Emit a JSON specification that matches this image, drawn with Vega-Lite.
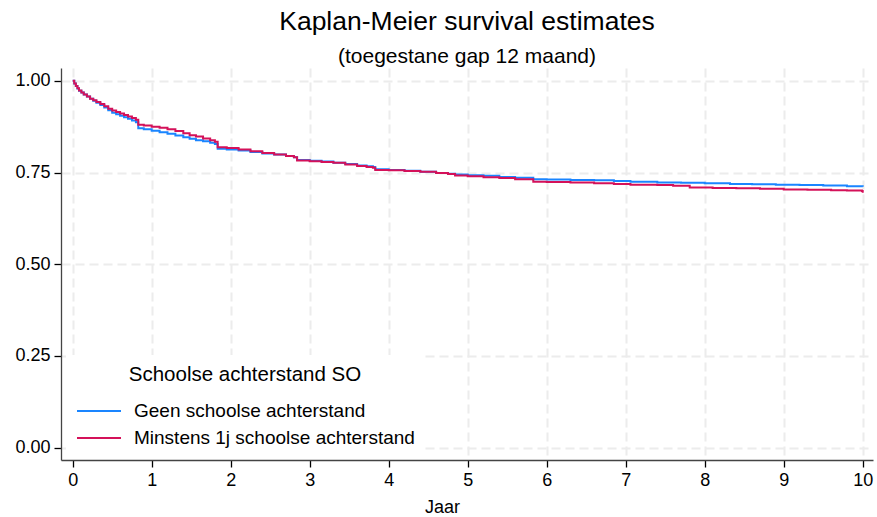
{
  "$schema": "https://vega.github.io/schema/vega-lite/v6.json",
  "width": 812,
  "height": 392,
  "autosize": {"type": "none"},
  "padding": {"left": 61, "top": 68, "right": 4, "bottom": 57},
  "background": "white",
  "title": {
    "text": "Kaplan-Meier survival estimates",
    "subtitle": "(toegestane gap 12 maand)",
    "frame": "group",
    "anchor": "middle",
    "font": "Liberation Sans",
    "fontSize": 26.5,
    "fontWeight": "normal",
    "color": "#000000",
    "subtitleFont": "Liberation Sans",
    "subtitleFontSize": 21,
    "subtitleColor": "#000000",
    "subtitlePadding": 11,
    "offset": 1
  },
  "data": {
    "values": [
      {"groep": "Geen schoolse achterstand", "t": 0, "s": 1.0},
      {"groep": "Geen schoolse achterstand", "t": 0.02, "s": 0.993},
      {"groep": "Geen schoolse achterstand", "t": 0.04, "s": 0.986},
      {"groep": "Geen schoolse achterstand", "t": 0.06, "s": 0.979},
      {"groep": "Geen schoolse achterstand", "t": 0.08, "s": 0.973},
      {"groep": "Geen schoolse achterstand", "t": 0.11, "s": 0.968},
      {"groep": "Geen schoolse achterstand", "t": 0.14, "s": 0.963},
      {"groep": "Geen schoolse achterstand", "t": 0.18, "s": 0.957},
      {"groep": "Geen schoolse achterstand", "t": 0.22, "s": 0.951},
      {"groep": "Geen schoolse achterstand", "t": 0.26, "s": 0.946},
      {"groep": "Geen schoolse achterstand", "t": 0.3, "s": 0.94},
      {"groep": "Geen schoolse achterstand", "t": 0.35, "s": 0.934},
      {"groep": "Geen schoolse achterstand", "t": 0.4, "s": 0.927},
      {"groep": "Geen schoolse achterstand", "t": 0.45, "s": 0.92},
      {"groep": "Geen schoolse achterstand", "t": 0.5, "s": 0.913},
      {"groep": "Geen schoolse achterstand", "t": 0.55, "s": 0.909},
      {"groep": "Geen schoolse achterstand", "t": 0.6, "s": 0.905},
      {"groep": "Geen schoolse achterstand", "t": 0.65, "s": 0.901},
      {"groep": "Geen schoolse achterstand", "t": 0.7, "s": 0.897},
      {"groep": "Geen schoolse achterstand", "t": 0.75, "s": 0.892},
      {"groep": "Geen schoolse achterstand", "t": 0.8, "s": 0.887},
      {"groep": "Geen schoolse achterstand", "t": 0.83, "s": 0.871},
      {"groep": "Geen schoolse achterstand", "t": 0.9, "s": 0.868},
      {"groep": "Geen schoolse achterstand", "t": 1.0, "s": 0.864},
      {"groep": "Geen schoolse achterstand", "t": 1.1, "s": 0.86},
      {"groep": "Geen schoolse achterstand", "t": 1.2, "s": 0.856},
      {"groep": "Geen schoolse achterstand", "t": 1.3, "s": 0.851},
      {"groep": "Geen schoolse achterstand", "t": 1.4, "s": 0.846},
      {"groep": "Geen schoolse achterstand", "t": 1.48, "s": 0.842},
      {"groep": "Geen schoolse achterstand", "t": 1.56, "s": 0.838},
      {"groep": "Geen schoolse achterstand", "t": 1.65, "s": 0.835},
      {"groep": "Geen schoolse achterstand", "t": 1.74, "s": 0.831},
      {"groep": "Geen schoolse achterstand", "t": 1.8, "s": 0.828},
      {"groep": "Geen schoolse achterstand", "t": 1.835, "s": 0.815},
      {"groep": "Geen schoolse achterstand", "t": 1.95, "s": 0.813},
      {"groep": "Geen schoolse achterstand", "t": 2.1, "s": 0.81},
      {"groep": "Geen schoolse achterstand", "t": 2.25, "s": 0.806},
      {"groep": "Geen schoolse achterstand", "t": 2.4, "s": 0.802},
      {"groep": "Geen schoolse achterstand", "t": 2.55, "s": 0.799},
      {"groep": "Geen schoolse achterstand", "t": 2.7, "s": 0.795},
      {"groep": "Geen schoolse achterstand", "t": 2.8, "s": 0.792},
      {"groep": "Geen schoolse achterstand", "t": 2.84, "s": 0.784},
      {"groep": "Geen schoolse achterstand", "t": 3.0, "s": 0.782},
      {"groep": "Geen schoolse achterstand", "t": 3.15, "s": 0.78},
      {"groep": "Geen schoolse achterstand", "t": 3.3, "s": 0.777},
      {"groep": "Geen schoolse achterstand", "t": 3.45, "s": 0.773},
      {"groep": "Geen schoolse achterstand", "t": 3.6, "s": 0.769},
      {"groep": "Geen schoolse achterstand", "t": 3.72, "s": 0.767},
      {"groep": "Geen schoolse achterstand", "t": 3.8, "s": 0.765},
      {"groep": "Geen schoolse achterstand", "t": 3.83, "s": 0.759},
      {"groep": "Geen schoolse achterstand", "t": 4.0, "s": 0.757},
      {"groep": "Geen schoolse achterstand", "t": 4.2, "s": 0.755},
      {"groep": "Geen schoolse achterstand", "t": 4.4, "s": 0.752},
      {"groep": "Geen schoolse achterstand", "t": 4.6, "s": 0.749},
      {"groep": "Geen schoolse achterstand", "t": 4.75, "s": 0.747},
      {"groep": "Geen schoolse achterstand", "t": 4.84, "s": 0.745},
      {"groep": "Geen schoolse achterstand", "t": 5.0, "s": 0.743},
      {"groep": "Geen schoolse achterstand", "t": 5.2, "s": 0.741},
      {"groep": "Geen schoolse achterstand", "t": 5.4, "s": 0.738},
      {"groep": "Geen schoolse achterstand", "t": 5.6, "s": 0.736},
      {"groep": "Geen schoolse achterstand", "t": 5.83, "s": 0.732},
      {"groep": "Geen schoolse achterstand", "t": 6.0, "s": 0.731},
      {"groep": "Geen schoolse achterstand", "t": 6.3, "s": 0.73},
      {"groep": "Geen schoolse achterstand", "t": 6.6, "s": 0.729},
      {"groep": "Geen schoolse achterstand", "t": 6.85, "s": 0.727},
      {"groep": "Geen schoolse achterstand", "t": 7.06, "s": 0.725},
      {"groep": "Geen schoolse achterstand", "t": 7.4, "s": 0.723},
      {"groep": "Geen schoolse achterstand", "t": 7.7, "s": 0.722},
      {"groep": "Geen schoolse achterstand", "t": 8.0, "s": 0.721},
      {"groep": "Geen schoolse achterstand", "t": 8.32, "s": 0.719},
      {"groep": "Geen schoolse achterstand", "t": 8.6, "s": 0.718},
      {"groep": "Geen schoolse achterstand", "t": 8.9, "s": 0.717},
      {"groep": "Geen schoolse achterstand", "t": 9.2, "s": 0.716},
      {"groep": "Geen schoolse achterstand", "t": 9.5, "s": 0.715},
      {"groep": "Geen schoolse achterstand", "t": 9.8, "s": 0.713},
      {"groep": "Geen schoolse achterstand", "t": 10.0, "s": 0.711},
      {"groep": "Minstens 1j schoolse achterstand", "t": 0, "s": 1.0},
      {"groep": "Minstens 1j schoolse achterstand", "t": 0.02, "s": 0.993},
      {"groep": "Minstens 1j schoolse achterstand", "t": 0.04, "s": 0.986},
      {"groep": "Minstens 1j schoolse achterstand", "t": 0.06, "s": 0.98},
      {"groep": "Minstens 1j schoolse achterstand", "t": 0.08, "s": 0.974},
      {"groep": "Minstens 1j schoolse achterstand", "t": 0.11, "s": 0.968},
      {"groep": "Minstens 1j schoolse achterstand", "t": 0.14, "s": 0.963},
      {"groep": "Minstens 1j schoolse achterstand", "t": 0.18, "s": 0.957},
      {"groep": "Minstens 1j schoolse achterstand", "t": 0.22, "s": 0.951},
      {"groep": "Minstens 1j schoolse achterstand", "t": 0.26, "s": 0.947},
      {"groep": "Minstens 1j schoolse achterstand", "t": 0.3, "s": 0.942},
      {"groep": "Minstens 1j schoolse achterstand", "t": 0.35, "s": 0.937},
      {"groep": "Minstens 1j schoolse achterstand", "t": 0.4, "s": 0.931},
      {"groep": "Minstens 1j schoolse achterstand", "t": 0.45, "s": 0.924},
      {"groep": "Minstens 1j schoolse achterstand", "t": 0.5, "s": 0.919},
      {"groep": "Minstens 1j schoolse achterstand", "t": 0.55, "s": 0.915},
      {"groep": "Minstens 1j schoolse achterstand", "t": 0.6, "s": 0.911},
      {"groep": "Minstens 1j schoolse achterstand", "t": 0.65, "s": 0.907},
      {"groep": "Minstens 1j schoolse achterstand", "t": 0.7, "s": 0.903},
      {"groep": "Minstens 1j schoolse achterstand", "t": 0.75, "s": 0.899},
      {"groep": "Minstens 1j schoolse achterstand", "t": 0.8, "s": 0.894},
      {"groep": "Minstens 1j schoolse achterstand", "t": 0.83, "s": 0.88},
      {"groep": "Minstens 1j schoolse achterstand", "t": 0.9, "s": 0.878},
      {"groep": "Minstens 1j schoolse achterstand", "t": 1.0, "s": 0.875},
      {"groep": "Minstens 1j schoolse achterstand", "t": 1.1, "s": 0.872},
      {"groep": "Minstens 1j schoolse achterstand", "t": 1.2, "s": 0.868},
      {"groep": "Minstens 1j schoolse achterstand", "t": 1.3, "s": 0.863},
      {"groep": "Minstens 1j schoolse achterstand", "t": 1.4, "s": 0.857},
      {"groep": "Minstens 1j schoolse achterstand", "t": 1.48, "s": 0.852},
      {"groep": "Minstens 1j schoolse achterstand", "t": 1.56, "s": 0.848},
      {"groep": "Minstens 1j schoolse achterstand", "t": 1.65, "s": 0.843},
      {"groep": "Minstens 1j schoolse achterstand", "t": 1.74, "s": 0.838},
      {"groep": "Minstens 1j schoolse achterstand", "t": 1.8, "s": 0.834},
      {"groep": "Minstens 1j schoolse achterstand", "t": 1.835, "s": 0.819},
      {"groep": "Minstens 1j schoolse achterstand", "t": 1.95, "s": 0.817},
      {"groep": "Minstens 1j schoolse achterstand", "t": 2.1, "s": 0.813},
      {"groep": "Minstens 1j schoolse achterstand", "t": 2.25, "s": 0.808},
      {"groep": "Minstens 1j schoolse achterstand", "t": 2.4, "s": 0.803},
      {"groep": "Minstens 1j schoolse achterstand", "t": 2.55, "s": 0.799},
      {"groep": "Minstens 1j schoolse achterstand", "t": 2.7, "s": 0.795},
      {"groep": "Minstens 1j schoolse achterstand", "t": 2.8, "s": 0.792},
      {"groep": "Minstens 1j schoolse achterstand", "t": 2.84, "s": 0.783},
      {"groep": "Minstens 1j schoolse achterstand", "t": 3.0, "s": 0.781},
      {"groep": "Minstens 1j schoolse achterstand", "t": 3.15, "s": 0.779},
      {"groep": "Minstens 1j schoolse achterstand", "t": 3.3, "s": 0.777},
      {"groep": "Minstens 1j schoolse achterstand", "t": 3.45, "s": 0.772},
      {"groep": "Minstens 1j schoolse achterstand", "t": 3.6, "s": 0.768},
      {"groep": "Minstens 1j schoolse achterstand", "t": 3.72, "s": 0.765},
      {"groep": "Minstens 1j schoolse achterstand", "t": 3.8, "s": 0.763},
      {"groep": "Minstens 1j schoolse achterstand", "t": 3.83, "s": 0.757},
      {"groep": "Minstens 1j schoolse achterstand", "t": 4.0, "s": 0.756},
      {"groep": "Minstens 1j schoolse achterstand", "t": 4.2, "s": 0.754},
      {"groep": "Minstens 1j schoolse achterstand", "t": 4.4, "s": 0.752},
      {"groep": "Minstens 1j schoolse achterstand", "t": 4.6, "s": 0.749},
      {"groep": "Minstens 1j schoolse achterstand", "t": 4.75, "s": 0.746},
      {"groep": "Minstens 1j schoolse achterstand", "t": 4.84, "s": 0.742},
      {"groep": "Minstens 1j schoolse achterstand", "t": 5.0, "s": 0.74},
      {"groep": "Minstens 1j schoolse achterstand", "t": 5.2, "s": 0.737},
      {"groep": "Minstens 1j schoolse achterstand", "t": 5.4, "s": 0.735},
      {"groep": "Minstens 1j schoolse achterstand", "t": 5.6, "s": 0.732},
      {"groep": "Minstens 1j schoolse achterstand", "t": 5.83, "s": 0.725},
      {"groep": "Minstens 1j schoolse achterstand", "t": 6.0, "s": 0.724},
      {"groep": "Minstens 1j schoolse achterstand", "t": 6.3, "s": 0.723},
      {"groep": "Minstens 1j schoolse achterstand", "t": 6.6, "s": 0.721},
      {"groep": "Minstens 1j schoolse achterstand", "t": 6.85, "s": 0.719},
      {"groep": "Minstens 1j schoolse achterstand", "t": 7.06, "s": 0.717},
      {"groep": "Minstens 1j schoolse achterstand", "t": 7.4, "s": 0.716},
      {"groep": "Minstens 1j schoolse achterstand", "t": 7.6, "s": 0.714},
      {"groep": "Minstens 1j schoolse achterstand", "t": 7.81, "s": 0.709},
      {"groep": "Minstens 1j schoolse achterstand", "t": 8.1, "s": 0.708},
      {"groep": "Minstens 1j schoolse achterstand", "t": 8.4, "s": 0.707},
      {"groep": "Minstens 1j schoolse achterstand", "t": 8.7, "s": 0.706},
      {"groep": "Minstens 1j schoolse achterstand", "t": 9.0, "s": 0.704},
      {"groep": "Minstens 1j schoolse achterstand", "t": 9.3, "s": 0.703},
      {"groep": "Minstens 1j schoolse achterstand", "t": 9.6, "s": 0.702},
      {"groep": "Minstens 1j schoolse achterstand", "t": 9.8, "s": 0.701},
      {"groep": "Minstens 1j schoolse achterstand", "t": 9.99, "s": 0.7},
      {"groep": "Minstens 1j schoolse achterstand", "t": 10.0, "s": 0.695}
    ]
  },
  "mark": {"type": "line", "interpolate": "step-after", "strokeWidth": 2},
  "encoding": {
    "x": {
      "field": "t",
      "type": "quantitative",
      "scale": {"domain": [-0.148, 10.13], "nice": false, "zero": false},
      "axis": {
        "values": [0, 1, 2, 3, 4, 5, 6, 7, 8, 9, 10],
        "format": "d",
        "title": "Jaar",
        "titleX": 381,
        "titlePadding": 9
      }
    },
    "y": {
      "field": "s",
      "type": "quantitative",
      "scale": {"domain": [-0.0335, 1.035], "nice": false, "zero": false},
      "axis": {
        "values": [0, 0.25, 0.5, 0.75, 1],
        "format": ".2f",
        "title": null
      }
    },
    "color": {
      "field": "groep",
      "type": "nominal",
      "scale": {
        "domain": ["Geen schoolse achterstand", "Minstens 1j schoolse achterstand"],
        "range": ["#1a85ff", "#d41159"]
      },
      "legend": {
        "title": "Schoolse achterstand SO",
        "orient": "none",
        "legendX": 5,
        "legendY": 287,
        "fillColor": "white",
        "padding": 10,
        "symbolType": "stroke",
        "symbolSize": 1936,
        "symbolStrokeWidth": 2,
        "clipHeight": 17,
        "rowPadding": 7,
        "labelOffset": 12,
        "labelFont": "Liberation Sans",
        "labelFontSize": 19,
        "labelColor": "#000000",
        "labelLimit": 400,
        "titleFont": "Liberation Sans",
        "titleFontSize": 20.5,
        "titleFontWeight": "normal",
        "titleColor": "#000000",
        "titleAnchor": "middle",
        "titlePadding": 17,
        "titleLimit": 400
      }
    }
  },
  "config": {
    "view": {"stroke": null},
    "font": "Liberation Sans",
    "axis": {
      "labelFont": "Liberation Sans",
      "labelFontSize": 18,
      "labelColor": "#000000",
      "titleFont": "Liberation Sans",
      "titleFontSize": 18,
      "titleFontWeight": "normal",
      "titleColor": "#000000",
      "domainColor": "#444444",
      "domainWidth": 1.3,
      "tickColor": "#000000",
      "tickSize": 7,
      "tickWidth": 1.3,
      "labelPadding": 4,
      "gridColor": "#ececec",
      "gridWidth": 2,
      "gridDash": [9, 5],
      "labelFlush": false,
      "labelOverlap": false
    }
  }
}
